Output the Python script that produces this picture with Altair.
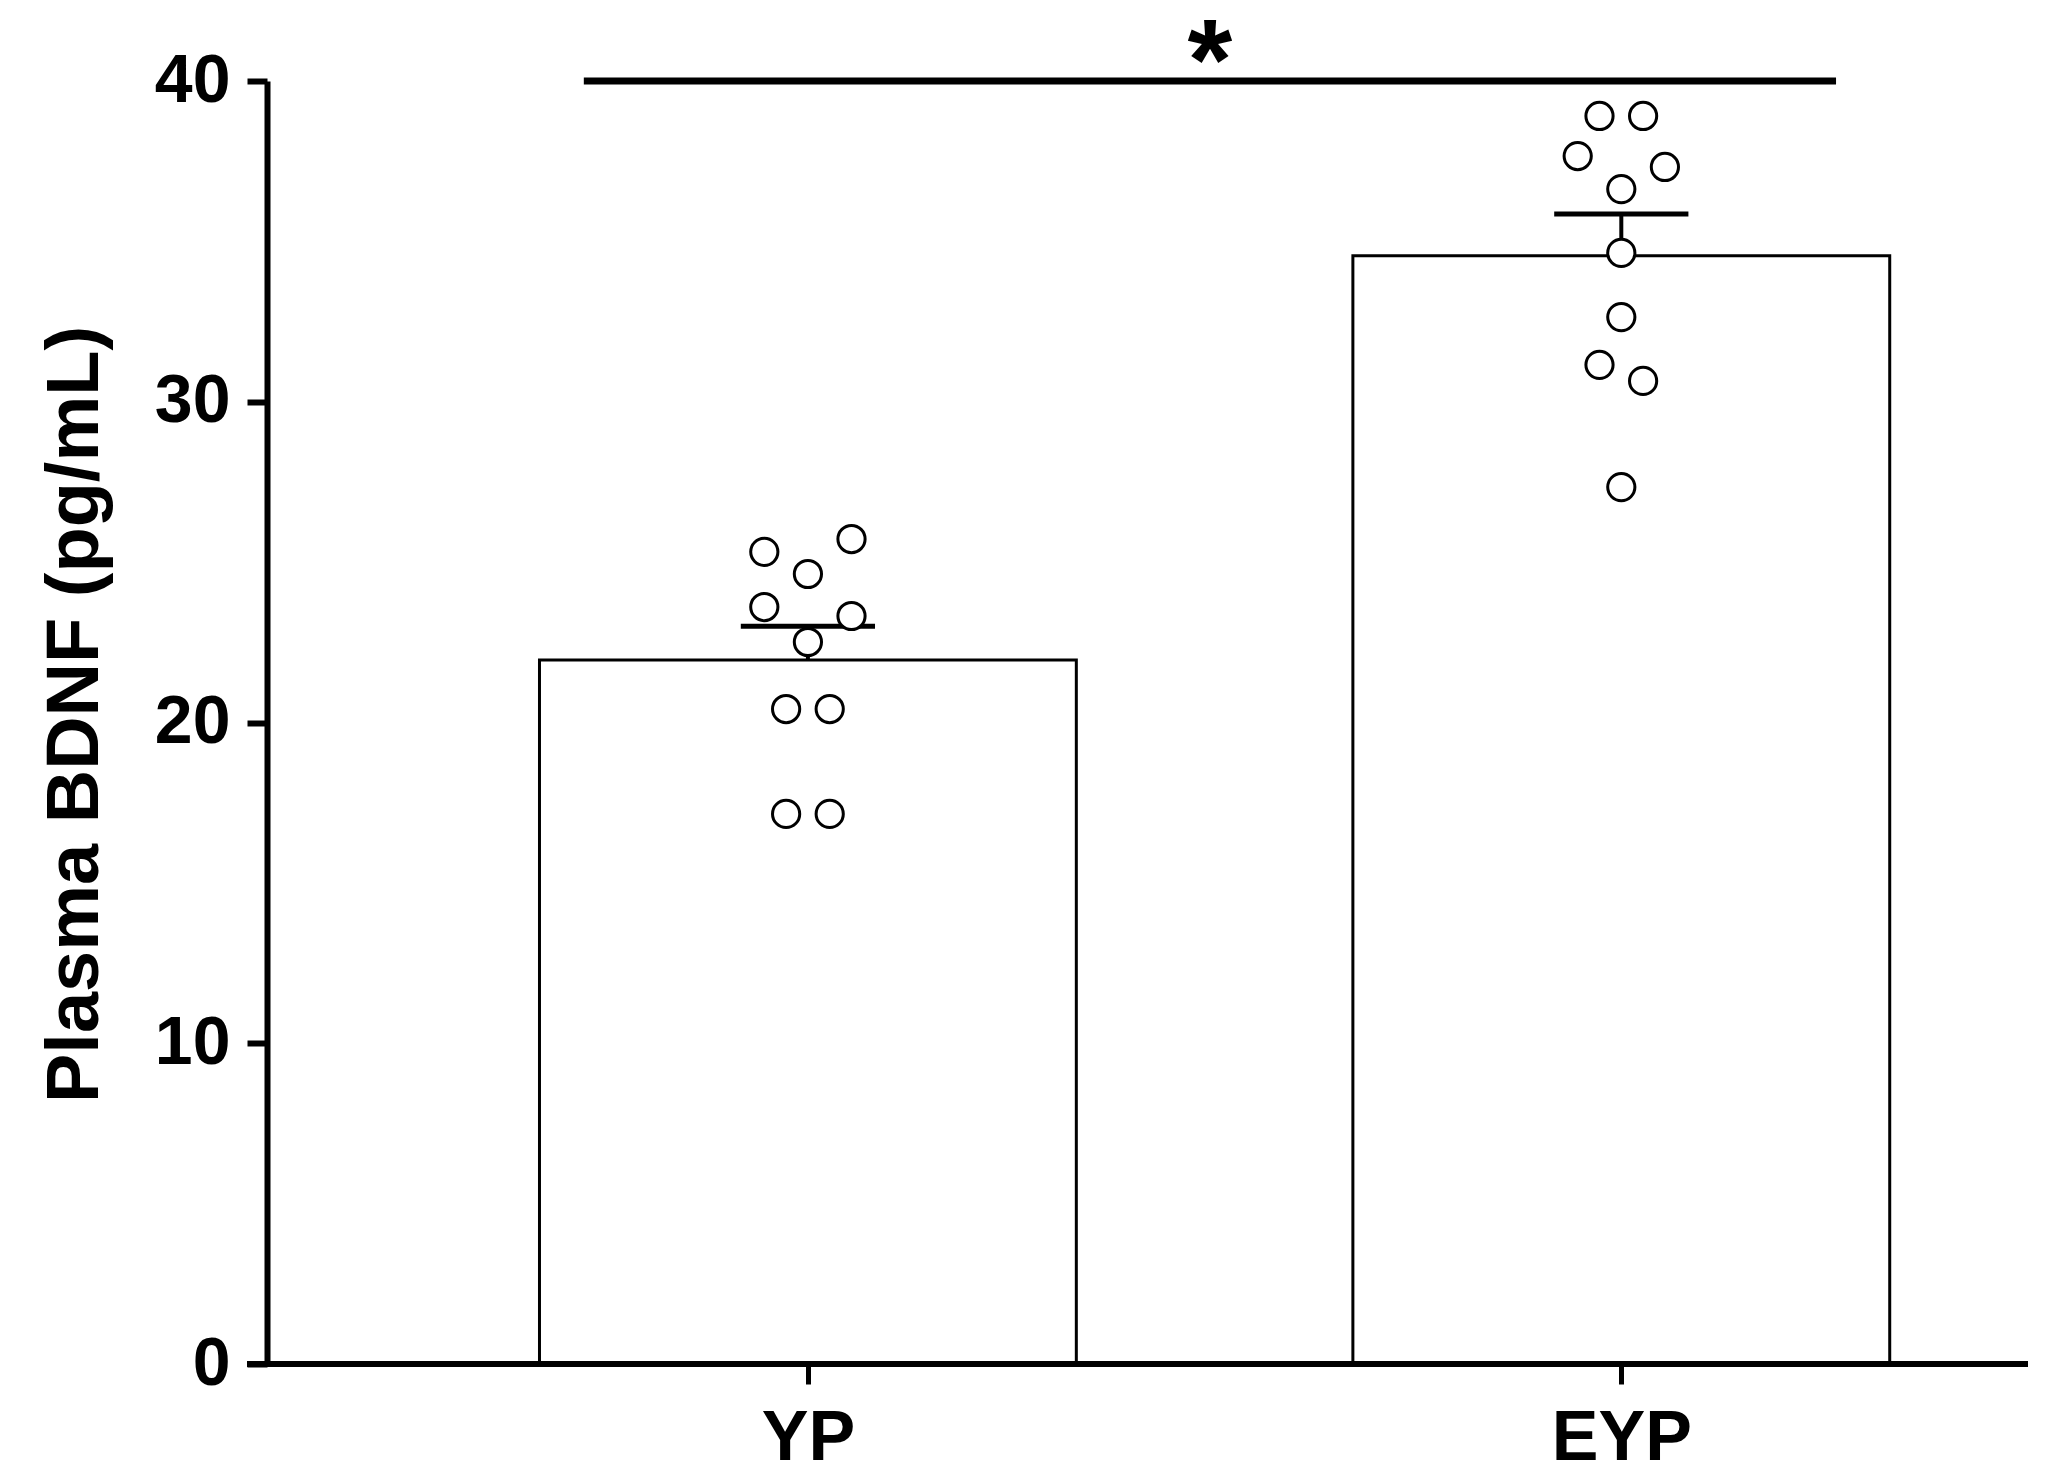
import altair as alt
import pandas as pd

# ---- data ----
groups = ["YP", "EYP"]
group_pos = [1, 2]
means = [21.95, 34.55]
sems = [1.05, 1.30]

yp_values = [25.32, 25.72, 24.63, 23.60, 23.32, 22.51, 20.42, 20.42, 17.15, 17.15]
yp_slots = [-2, 2, 0, -2, 2, 0, -1, 1, -1, 1]
eyp_values = [38.91, 38.91, 37.66, 37.32, 36.63, 34.64, 32.64, 31.15, 30.65, 27.34]
eyp_slots = [-1, 1, -2, 2, 0, 0, 0, -1, 1, 0]

sig_from = 0.7245
sig_to = 2.264
sig_y = 40
sig_label = "*"
star_y = 39.45

y_ticks = [0, 10, 20, 30, 40]

# ---- geometry ----
W, H = 1761, 1283
BAR_HALF = 0.33
CAP_HALF = 0.0825
SLOT = 0.0268
FONT = "Liberation Sans, Arial, sans-serif"

bars = pd.DataFrame({
    "group": groups,
    "pos": group_pos,
    "lo": [p - BAR_HALF for p in group_pos],
    "hi": [p + BAR_HALF for p in group_pos],
    "mean": means,
    "top": [m + s for m, s in zip(means, sems)],
    "cap_lo": [p - CAP_HALF for p in group_pos],
    "cap_hi": [p + CAP_HALF for p in group_pos],
})

rows = []
for g, p, vals, slots in [("YP", 1, yp_values, yp_slots), ("EYP", 2, eyp_values, eyp_slots)]:
    for v, s in zip(vals, slots):
        rows.append({"group": g, "x": p + s * SLOT, "value": v})
points = pd.DataFrame(rows)

sig = pd.DataFrame({"x": [sig_from], "x2": [sig_to], "y": [sig_y],
                    "sx": [(sig_from + sig_to) / 2], "sy": [star_y], "label": [sig_label]})

xscale = alt.Scale(domain=[0.335, 2.5], nice=False, zero=False)
yscale = alt.Scale(domain=[0, 40], nice=False)

label_expr = " : ".join(
    [f"datum.value == {p} ? '{g}'" for p, g in zip(group_pos, groups)] + ["''"]
)

x_axis = alt.Axis(
    values=group_pos, labelExpr=label_expr, title=None, grid=False,
    domain=False, ticks=True, tickSize=20, tickWidth=5, tickColor="black",
    labelFont=FONT, labelFontSize=70, labelFontWeight="bold", labelColor="black",
    labelPadding=20, labelBaseline="top",
)
y_axis = alt.Axis(
    values=y_ticks, title="Plasma BDNF (pg/mL)", grid=False,
    domain=True, domainColor="black", domainWidth=6,
    ticks=True, tickSize=20, tickWidth=6, tickColor="black",
    labelFont=FONT, labelFontSize=68, labelFontWeight="bold", labelColor="black",
    labelPadding=17,
    titleFont=FONT, titleFontSize=74, titleFontWeight="bold", titleColor="black",
    titleX=-170, titleY=633, titleAngle=270, titleBaseline="alphabetic", titleAlign="center",
)

base_bars = alt.Chart(bars)

bar_layer = base_bars.mark_bar(fill="white", stroke="black", strokeWidth=3).encode(
    x=alt.X("lo:Q", scale=xscale, axis=x_axis),
    x2="hi:Q",
    y=alt.Y("mean:Q", scale=yscale, axis=y_axis),
    y2=alt.datum(0),
)

stem = base_bars.mark_rule(color="black", strokeWidth=4).encode(
    x=alt.X("pos:Q", scale=xscale), y=alt.Y("mean:Q", scale=yscale), y2="top:Q"
)
cap = base_bars.mark_rule(color="black", strokeWidth=5).encode(
    x=alt.X("cap_lo:Q", scale=xscale), x2="cap_hi:Q", y=alt.Y("top:Q", scale=yscale)
)

pts = alt.Chart(points).mark_point(
    shape="circle", filled=False, fill="white", fillOpacity=1, stroke="black",
    strokeWidth=3, size=740, opacity=1,
).encode(
    x=alt.X("x:Q", scale=xscale), y=alt.Y("value:Q", scale=yscale)
)

sig_line = alt.Chart(sig).mark_rule(color="black", strokeWidth=7).encode(
    x=alt.X("x:Q", scale=xscale), x2="x2:Q", y=alt.Y("y:Q", scale=yscale)
)
star = alt.Chart(sig).mark_text(
    font=FONT, fontSize=115, fontWeight="bold", color="black",
    baseline="alphabetic", align="center",
).encode(
    x=alt.X("sx:Q", scale=xscale), y=alt.Y("sy:Q", scale=yscale), text="label:N"
)

x_line = alt.Chart(sig).mark_rule(color="black", strokeWidth=6).encode(
    x=alt.value(-20), x2=alt.value(W), y=alt.value(H)
)

chart = alt.layer(bar_layer, stem, cap, pts, x_line, sig_line, star).properties(
    width=W, height=H,
    background="white",
    autosize=alt.AutoSizeParams(type="none"),
    padding={"left": 259, "top": 73, "right": 10, "bottom": 110},
).configure_view(stroke=None)

chart.save("out.html", embed_options={"renderer": "svg", "actions": False})
